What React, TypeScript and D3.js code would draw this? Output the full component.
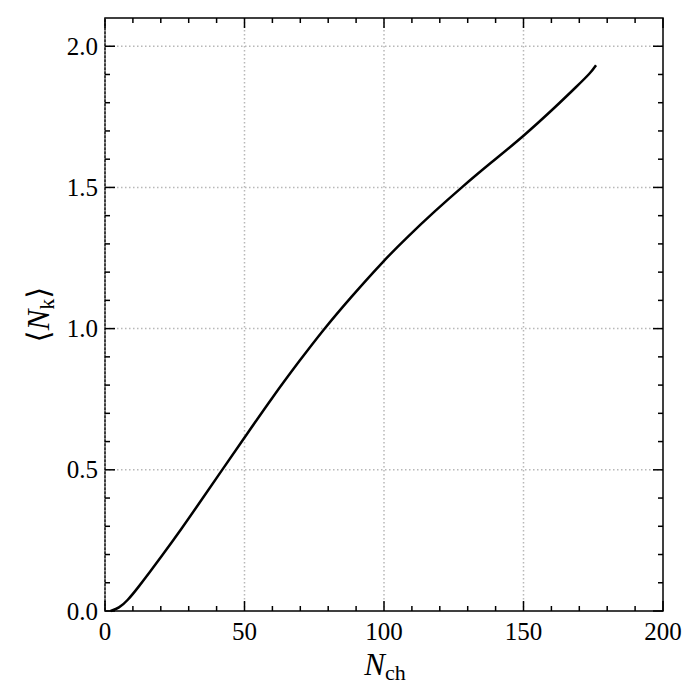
import React, { useEffect, useRef } from "react";
import * as d3 from "d3";

const nch: number[] = [2, 5, 8, 12, 16, 20, 27.5, 34, 42, 50, 60, 70, 78, 88, 100, 108, 118, 128, 138, 150, 162, 169, 174, 176];
const nk: number[] = [0, 0.01, 0.036, 0.085, 0.137, 0.19, 0.292, 0.385, 0.5, 0.614, 0.757, 0.89, 0.993, 1.11, 1.242, 1.321, 1.414, 1.502, 1.585, 1.681, 1.79, 1.857, 1.905, 1.933];
const xMajor: number[] = [0, 50, 100, 150, 200];
const yMajor: number[] = [0, 0.5, 1.0, 1.5, 2.0];
const xTickLabels: string[] = ["0", "50", "100", "150", "200"];
const yTickLabels: string[] = ["0.0", "0.5", "1.0", "1.5", "2.0"];

const W = 700, H = 700;
const M = { left: 105, right: 663, top: 18, bottom: 611 };
const FONT = "Liberation Serif, Times New Roman, DejaVu Serif, serif";

export default function App() {
  const ref = useRef<SVGSVGElement>(null);
  useEffect(() => {
    const svg = d3.select(ref.current);
    svg.selectAll("*").remove();
    const x = d3.scaleLinear().domain([0, 200]).range([M.left, M.right]);
    const y = d3.scaleLinear().domain([0, 2.1]).range([M.bottom, M.top]);

    const g = svg.append("g");
    const gridStyle = (sel: any) => sel.attr("stroke", "#b8b8b8").attr("stroke-width", 1.5).attr("stroke-dasharray", "1.5,2.5");
    g.selectAll(".gx").data(xMajor.filter((v) => v < 200)).enter().append("line")
      .attr("x1", (d) => x(d)).attr("x2", (d) => x(d)).attr("y1", M.top).attr("y2", M.bottom).call(gridStyle);
    g.selectAll(".gy").data(yMajor.filter((v) => v > 0)).enter().append("line")
      .attr("y1", (d) => y(d)).attr("y2", (d) => y(d)).attr("x1", M.left).attr("x2", M.right).call(gridStyle);

    const pts: [number, number][] = nch.map((n, i) => [n, nk[i]]);
    const line = d3.line<[number, number]>().x((d) => x(d[0])).y((d) => y(d[1])).curve(d3.curveBasis);
    g.append("path").attr("d", line(pts) as string).attr("fill", "none").attr("stroke", "#000").attr("stroke-width", 2.5);

    g.append("rect").attr("x", M.left).attr("y", M.top).attr("width", M.right - M.left).attr("height", M.bottom - M.top)
      .attr("fill", "none").attr("stroke", "#000").attr("stroke-width", 1.5);
    g.append("line").attr("x1", x(0)).attr("x2", x(0)).attr("y1", M.top).attr("y2", M.bottom)
      .attr("stroke", "#c8c8c8").attr("stroke-width", 1.2).attr("stroke-dasharray", "1.5,2.5");

    const xMinor = d3.range(0, 201, 10).filter((v) => v % 50 !== 0);
    const yMinor = d3.range(0, 21, 1).map((v) => v / 10).filter((v) => Math.round(v * 10) % 5 !== 0);
    const tick = (x1: number, y1: number, x2: number, y2: number) =>
      g.append("line").attr("x1", x1).attr("y1", y1).attr("x2", x2).attr("y2", y2).attr("stroke", "#000").attr("stroke-width", 1.5);
    const MJ = 10, MN = 5;
    xMajor.forEach((v) => { tick(x(v), M.bottom, x(v), M.bottom - MJ); tick(x(v), M.top, x(v), M.top + MJ); });
    xMinor.forEach((v) => { tick(x(v), M.bottom, x(v), M.bottom - MN); tick(x(v), M.top, x(v), M.top + MN); });
    yMajor.forEach((v) => { tick(M.left, y(v), M.left + MJ, y(v)); tick(M.right, y(v), M.right - MJ, y(v)); });
    yMinor.forEach((v) => { tick(M.left, y(v), M.left + MN, y(v)); tick(M.right, y(v), M.right - MN, y(v)); });

    xMajor.forEach((v, i) => {
      g.append("text").attr("x", x(v)).attr("y", 640).attr("text-anchor", "middle")
        .attr("font-family", FONT).attr("font-size", 25).text(xTickLabels[i]);
    });
    yMajor.forEach((v, i) => {
      g.append("text").attr("x", 98).attr("y", y(v) + 8.5).attr("text-anchor", "end")
        .attr("font-family", FONT).attr("font-size", 25).text(yTickLabels[i]);
    });

    const xl = g.append("text").attr("x", 385).attr("y", 675).attr("text-anchor", "middle")
      .attr("font-family", FONT).attr("font-size", 31);
    xl.append("tspan").attr("font-style", "italic").text("N");
    xl.append("tspan").attr("font-size", 22).attr("dy", 5).text("ch");

    const yl = g.append("text").attr("transform", `translate(49,${(M.top + M.bottom) / 2}) rotate(-90)`)
      .attr("text-anchor", "middle").attr("font-family", FONT).attr("font-size", 31);
    yl.append("tspan").text("⟨");
    yl.append("tspan").attr("font-style", "italic").text("N");
    yl.append("tspan").attr("font-size", 22).attr("dy", 5).text("k");
    yl.append("tspan").attr("dy", -5).text("⟩");
  }, []);
  return (
    <div style={{ position: "absolute", left: 0, top: 0 }}>
      <svg ref={ref} width={W} height={H} style={{ display: "block", background: "#fff" }} />
    </div>
  );
}
